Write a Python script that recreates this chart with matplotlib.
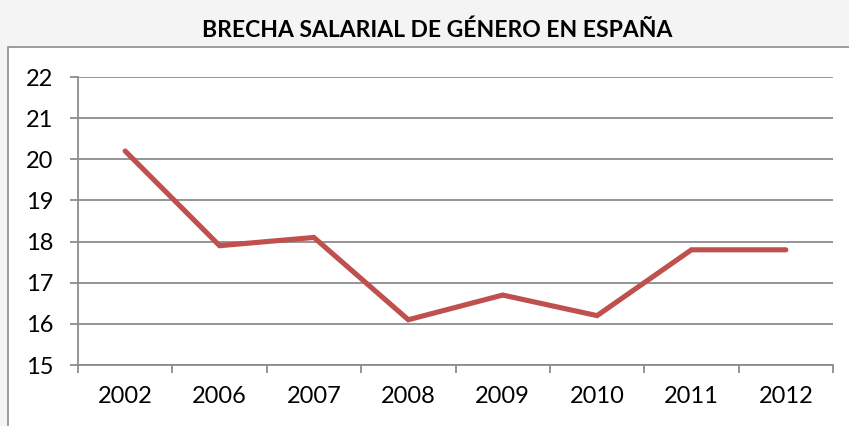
import numpy as np
import matplotlib.pyplot as plt
from matplotlib.patches import Rectangle

years = ['2002', '2006', '2007', '2008', '2009', '2010', '2011', '2012']
brecha = [20.2, 17.9, 18.1, 16.1, 16.7, 16.2, 17.8, 17.8]

plt.rcParams['font.family'] = ['Lato', 'DejaVu Sans']

W, H = 849, 426
fig = plt.figure(figsize=(W / 100, H / 100), dpi=100, facecolor='#f4f4f4')

# white chart area with grey frame
fig.patches.append(Rectangle((8 / W, -0.05), 1.0, 1 - 47 / H + 0.05, transform=fig.transFigure,
                             facecolor='white', edgecolor='#8c8c8c', linewidth=1.2, zorder=-1))

fig.text(437 / W, 1 - 30 / H, 'BRECHA SALARIAL DE GÉNERO EN ESPAÑA', ha='center', va='center',
         fontsize=16.5, fontweight='bold', color='black')

ax = fig.add_axes([78 / W, 1 - 365 / H, (833 - 78) / W, (365 - 77) / H])
ax.set_zorder(2)
ax.set_facecolor('white')

x = np.arange(len(years))
ax.plot(x, brecha, color='#c0504d', linewidth=3.7, solid_capstyle='round', solid_joinstyle='miter', zorder=3)

ax.set_xlim(-0.5, len(years) - 0.5)
ax.set_ylim(15, 22)
ax.set_yticks(np.arange(15, 23, 1))
ax.yaxis.grid(True, color='#8c8c8c', linewidth=1.3)
ax.set_axisbelow(True)

ax.set_xticks(x)
ax.set_xticklabels(years)
ax.set_xticks(np.arange(-0.5, len(years), 1), minor=True)
ax.tick_params(axis='x', which='major', length=0, pad=15, labelsize=17)
ax.tick_params(axis='x', which='minor', length=5.5, width=1.3, color='#8c8c8c', direction='out')
ax.tick_params(axis='y', length=5.8, width=1.3, color='#8c8c8c', pad=12, labelsize=17)

for s in ['top', 'right']:
    ax.spines[s].set_visible(False)
for s in ['left', 'bottom']:
    ax.spines[s].set_color('#8c8c8c')
    ax.spines[s].set_linewidth(1.3)

fig.savefig('out.png', dpi=100, facecolor=fig.get_facecolor())
